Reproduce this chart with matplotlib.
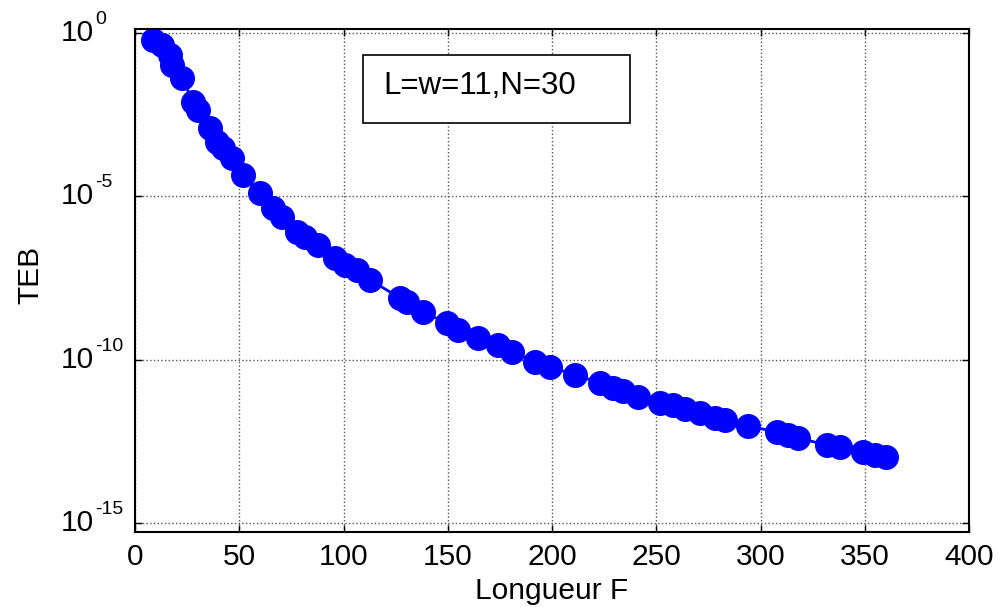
import matplotlib
matplotlib.use("Agg")
import matplotlib.pyplot as plt
from matplotlib.patches import Rectangle
from matplotlib.ticker import FixedLocator, NullLocator

plt.rcParams['font.family'] = ['Liberation Sans', 'DejaVu Sans']

# Longueur F vs TEB
longueur = [8.5, 13, 16.8, 17.7, 22.5, 27.8, 30.2, 36, 39.3, 42.2, 46.5, 51.8,
            60, 66.2, 70.5, 77.7, 81.5, 87.8, 95.9, 100.7, 106.5, 112.7,
            127, 130.5, 138, 149.6, 155, 164.5, 174, 181, 192, 199, 211,
            223, 229, 234, 241, 252, 258, 264, 271, 278, 283, 294,
            308, 313, 318, 332, 338, 349, 355, 360]
teb = [6.2e-1, 4.3e-1, 2.1e-1, 1.05e-1, 4.2e-2, 7.9e-3, 4.5e-3, 1.26e-3, 4.7e-4,
       3.0e-4, 1.5e-4, 4.6e-5, 1.3e-5, 4.5e-6, 2.3e-6, 8.1e-7, 5.8e-7, 3.3e-7,
       1.32e-7, 8.1e-8, 5.6e-8, 2.8e-8, 7.9e-9, 5.9e-9, 2.95e-9, 1.35e-9,
       8.3e-10, 4.7e-10, 2.9e-10, 1.74e-10, 8.7e-11, 6.2e-11, 3.5e-11, 2.0e-11,
       1.38e-11, 1.12e-11, 7.4e-12, 4.9e-12, 4.2e-12, 3.2e-12, 2.4e-12,
       1.7e-12, 1.48e-12, 9.5e-13, 6.3e-13, 5.0e-13, 4.1e-13, 2.5e-13,
       2.2e-13, 1.55e-13, 1.26e-13, 1.07e-13]

x_ticks = [0, 50, 100, 150, 200, 250, 300, 350, 400]
y_ticks = [1e-15, 1e-10, 1e-5, 1e0]
y_exponents = ['-15', '-10', '-5', '0']
legend_text = 'L=w=11,N=30'

W, H = 1001, 607
fig = plt.figure(figsize=(W / 100, H / 100), dpi=100)
ax = fig.add_axes([0.1349, 0.1236, 0.8332, 0.8286])

ax.plot(longueur, teb, color='#0000ff', linewidth=2, marker='o',
        markersize=17, markerfacecolor='#0000ff', markeredgecolor='#0000ff')

ax.set_yscale('log')
ax.set_xlim(0, 400)
ax.set_ylim(10 ** -15.26, 10 ** 0.12)
ax.xaxis.set_major_locator(FixedLocator(x_ticks))
ax.yaxis.set_major_locator(FixedLocator(y_ticks))
ax.yaxis.set_minor_locator(NullLocator())
ax.set_yticklabels([])

ax.grid(True, which='major', color='#555555', linestyle=':', linewidth=1)
ax.tick_params(direction='in', length=5, width=1, top=True, right=True,
               labelsize=21.5, pad=8)
for s in ax.spines.values():
    s.set_linewidth(1.5)

# y tick labels written as base "10" plus a raised exponent (MATLAB look)
for val, ex in zip(y_ticks, y_exponents):
    ax.annotate('10', xy=(61 / W, val), xycoords=('figure fraction', 'data'),
                fontsize=21.5, ha='left', va='center', annotation_clip=False)
    ax.annotate(ex, xy=(95 / W, val), xycoords=('figure fraction', 'data'),
                xytext=(0, 10), textcoords='offset points',
                fontsize=14, ha='left', va='center', annotation_clip=False)

ax.set_xlabel('Longueur F', fontsize=21.5, labelpad=4)
fig.text(30 / W, 1 - 275 / H, 'TEB', fontsize=21.5, rotation=90,
         ha='center', va='center')

# legend box (no line sample in the original)
box = Rectangle((363 / W, 1 - 123 / H), 267 / W, 68 / H,
                transform=fig.transFigure, facecolor='white',
                edgecolor='black', linewidth=1.2, zorder=5)
fig.patches.append(box)
fig.text(383 / W, 1 - 86 / H, legend_text, fontsize=22.5,
         va='center', ha='left', zorder=6)

plt.savefig('out.png', dpi=100)
plt.close()
